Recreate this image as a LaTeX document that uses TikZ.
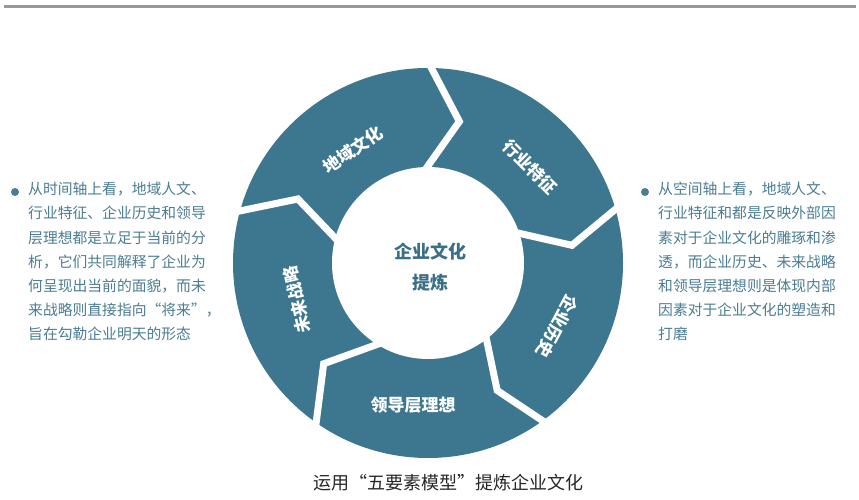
\documentclass[tikz,border=0pt]{standalone}
\usepackage{fontspec}
\setmainfont{Noto Sans CJK SC}
\usetikzlibrary{calc}
\definecolor{seg}{HTML}{3D778F}
\definecolor{sidetext}{HTML}{4A7C92}
\definecolor{centertext}{HTML}{3B6F87}
\definecolor{rule}{HTML}{979797}
\newcommand\myoq{\makebox[1em][r]{“}}
\newcommand\mycq{\makebox[1em][l]{”}}
\begin{document}
\begin{tikzpicture}[x=1pt,y=1pt,
  seglabel/.style={text=white,font=\fontsize{17}{17}\selectfont\bfseries,inner sep=0},
  centerlabel/.style={text=centertext,font=\fontsize{18}{18}\selectfont\bfseries,inner sep=0},
  sidepara/.style={text=sidetext,font=\fontsize{14.8}{24.2}\selectfont,align=left,inner sep=0,anchor=north west},
  bulletdot/.style={circle,fill=sidetext,inner sep=0,minimum size=8},
  gapline/.style={white,line width=7,line join=miter}]
\useasboundingbox (0,0) rectangle (859,500);
% top rule
\draw[rule,line width=3] (4,493) coordinate (ruleL) -- (856,493) coordinate (ruleR);
% ring
\begin{scope}[shift={(428,237)}]
  \fill[seg] (0,0) circle (195);
  \foreach \g/\m/\i in {89/77.5/90.5, 16/7/18, -54/-61.5/-52.5, -125/-136/-122, 164.5/153.8/165}
    \draw[gapline] ($(\m:145)!1.25!(\g:195)$) -- (\m:145) -- ($(\m:145)!1.4!(\i:96)$);
  \fill[white] (0,0) circle (96);
\end{scope}
% segment labels
\node[seglabel,rotate=34] (s1) at (353,350) {地域文化};
\node[seglabel,rotate=-45] (s2) at (530,333) {行业特征};
\node[seglabel,rotate=-118] (s3) at (557,173) {企业历史};
\node[seglabel] (s4) at (413,95) {领导层理想};
\node[seglabel,rotate=103] (s5) at (297,200) {未来战略};
% center
\node[centerlabel] (c1) at (430,248) {企业文化};
\node[centerlabel] (c2) at (430,217) {提炼};
% side texts
\node[bulletdot] (b1) at (15,308) {};
\node[sidepara] (t1) at (28,318) {从时间轴上看，地域人文、\\行业特征、企业历史和领导\\层理想都是立足于当前的分\\析，它们共同解释了企业为\\何呈现出当前的面貌，而未\\来战略则直接指向\myoq 将来\mycq ，\\旨在勾勒企业明天的形态};
\node[bulletdot] (b2) at (645,308) {};
\node[sidepara] (t2) at (658,318) {从空间轴上看，地域人文、\\行业特征和都是反映外部因\\素对于企业文化的雕琢和渗\\透，而企业历史、未来战略\\和领导层理想则是体现内部\\因素对于企业文化的塑造和\\打磨};
% caption
\node[text=black!85,font=\fontsize{18}{18}\selectfont,inner sep=0] (cap) at (448,17) {运用\myoq 五要素模型\mycq 提炼企业文化};
\end{tikzpicture}
\end{document}
